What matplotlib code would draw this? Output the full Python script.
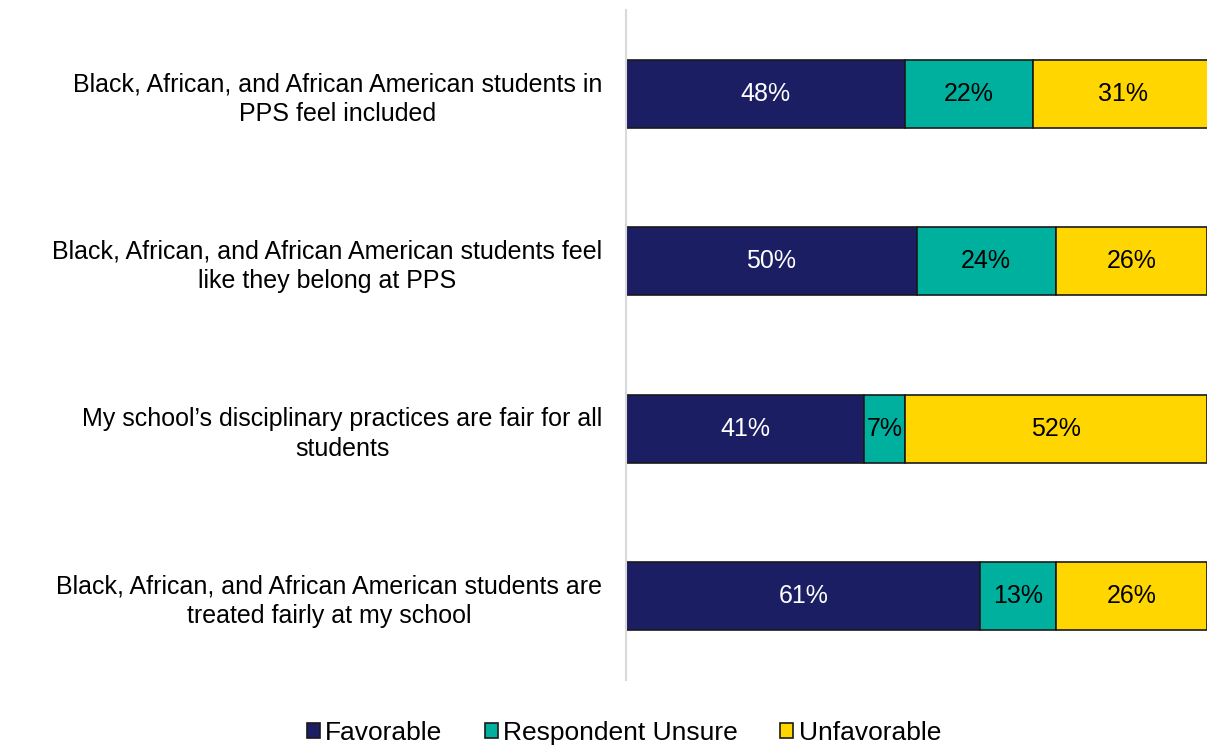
import matplotlib
matplotlib.use("Agg")
import matplotlib.pyplot as plt
from matplotlib.patches import Patch

plt.rcParams['font.family'] = ['Liberation Sans', 'DejaVu Sans']

statements = [
    "Black, African, and African American students in\nPPS feel included",
    "Black, African, and African American students feel\nlike they belong at PPS",
    "My school\u2019s disciplinary practices are fair for all\nstudents",
    "Black, African, and African American students are\ntreated fairly at my school",
]
series_names = ["Favorable", "Respondent Unsure", "Unfavorable"]
favorable = [48, 50, 41, 61]
unsure = [22, 24, 7, 13]
unfavorable = [31, 26, 52, 26]

colors = ["#1B1E63", "#00B09E", "#FFD600"]
text_colors = ["white", "black", "black"]
FS = 18

fig = plt.figure(figsize=(12.10, 7.46), dpi=100)
ax = fig.add_axes([626 / 1210, 66 / 746, 581 / 1210, 670 / 746])

y = list(range(len(statements)))
left = [0] * len(statements)
for vals, color, tcolor, name in zip([favorable, unsure, unfavorable], colors, text_colors, series_names):
    ax.barh(y, vals, left=left, height=0.405, color=color,
            edgecolor="#1a1a1a", linewidth=1.2, label=name)
    for yi, v, l in zip(y, vals, left):
        ax.text(l + v / 2, yi, f"{v}%", ha="center", va="center",
                color=tcolor, fontsize=FS)
    left = [a + b for a, b in zip(left, vals)]

ax.set_xlim(0, 100)
ax.set_ylim(3.5, -0.5)
ax.set_yticks(y)
ax.set_yticklabels(statements, fontsize=FS, ha="right", multialignment="center",
                   linespacing=1.3)
ax.tick_params(axis="y", length=0, pad=17)
ax.set_xticks([])
for side in ["top", "right", "bottom"]:
    ax.spines[side].set_visible(False)
ax.spines["left"].set_color("#d9d9d9")
ax.spines["left"].set_linewidth(1.5)

handles = [Patch(facecolor=c, edgecolor="#1a1a1a", linewidth=1.2, label=n)
           for c, n in zip(colors, series_names)]
fig.legend(handles=handles, loc="center", bbox_to_anchor=(624 / 1210, 1 - 733 / 746),
           ncol=3, frameon=False, fontsize=19, handlelength=0.5, handleheight=0.5,
           handletextpad=0.2, columnspacing=1.6)

fig.savefig("out.png", dpi=100)
